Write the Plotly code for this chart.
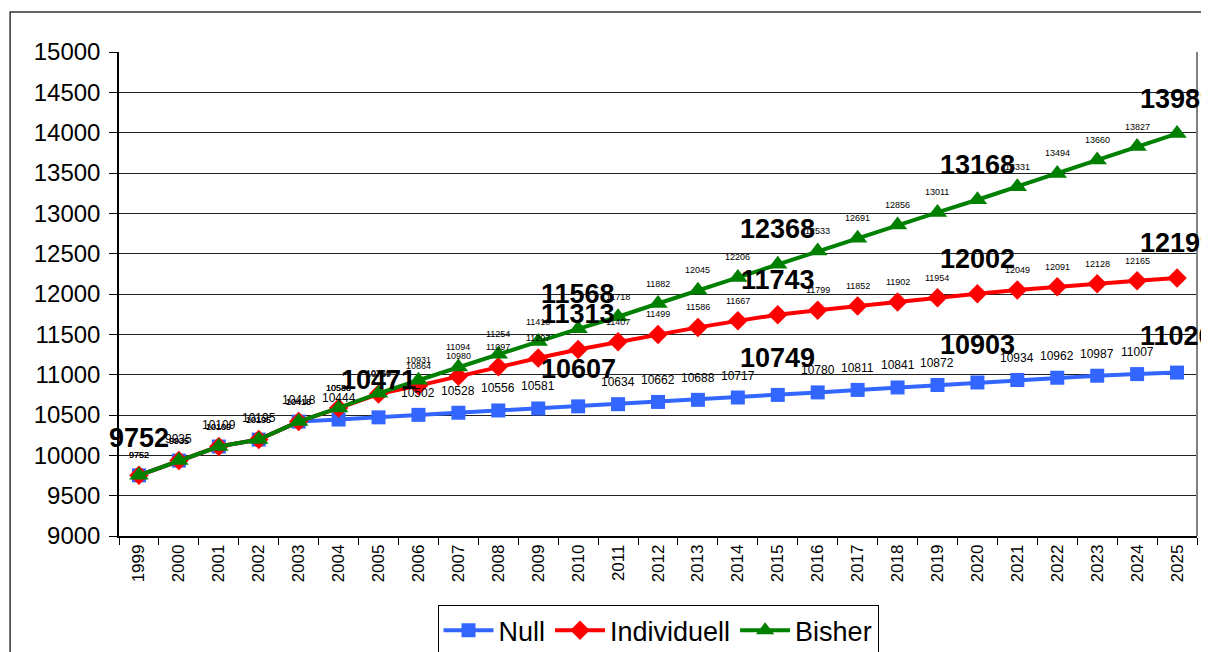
import plotly.graph_objects as go

years = ["1999", "2000", "2001", "2002", "2003", "2004", "2005", "2006", "2007",
         "2008", "2009", "2010", "2011", "2012", "2013", "2014", "2015", "2016",
         "2017", "2018", "2019", "2020", "2021", "2022", "2023", "2024", "2025"]

null_vals = [9752, 9935, 10109, 10195, 10418, 10444, 10471, 10502, 10528,
             10556, 10581, 10607, 10634, 10662, 10688, 10717, 10749, 10780,
             10811, 10841, 10872, 10903, 10934, 10962, 10987, 11007, 11026]

indiv_vals = [9752, 9935, 10109, 10195, 10418, 10586, 10759, 10864, 10980,
              11097, 11207, 11313, 11407, 11499, 11586, 11667, 11743, 11799,
              11852, 11902, 11954, 12002, 12049, 12091, 12128, 12165, 12199]

bisher_vals = [9752, 9935, 10109, 10195, 10418, 10588, 10769, 10931, 11094,
               11254, 11410, 11568, 11718, 11882, 12045, 12206, 12368, 12533,
               12691, 12856, 13011, 13168, 13331, 13494, 13660, 13827, 13989]

big_null_years = ["1999", "2005", "2010", "2015", "2020", "2025"]
big_other_years = ["2010", "2015", "2020", "2025"]

FONT = "Arial, Liberation Sans, sans-serif"
BLUE, RED, GREEN = "#3366FF", "#FF0000", "#008000"

fig = go.Figure()
fig.add_trace(go.Scatter(x=years, y=null_vals, name="Null", mode="lines+markers",
                         line=dict(color=BLUE, width=4),
                         marker=dict(symbol="square", size=14, color=BLUE)))
fig.add_trace(go.Scatter(x=years, y=indiv_vals, name="Individuell", mode="lines+markers",
                         line=dict(color=RED, width=4),
                         marker=dict(symbol="diamond", size=15, color=RED)))
fig.add_trace(go.Scatter(x=years, y=bisher_vals, name="Bisher", mode="lines+markers",
                         line=dict(color=GREEN, width=4),
                         marker=dict(symbol="triangle-up", size=17, color=GREEN)))

# Null labels (x given as category serial number)
for i, (yr, v) in enumerate(zip(years, null_vals)):
    if yr in big_null_years:
        fig.add_annotation(x=i, y=v, xref="x", yref="y", text="<b>%d</b>" % v,
                           showarrow=False, yshift=37,
                           font=dict(size=27, color="black", family=FONT))
    else:
        fig.add_annotation(x=i, y=v, xref="x", yref="y", text="%d" % v,
                           showarrow=False, yshift=22,
                           font=dict(size=12, color="black", family=FONT))
# Individuell & Bisher labels
for vals in (indiv_vals, bisher_vals):
    for i, (yr, v) in enumerate(zip(years, vals)):
        if yr in big_other_years:
            fig.add_annotation(x=i, y=v, xref="x", yref="y", text="<b>%d</b>" % v,
                               showarrow=False, yshift=35,
                               font=dict(size=27, color="black", family=FONT))
        else:
            fig.add_annotation(x=i, y=v, xref="x", yref="y", text="%d" % v,
                               showarrow=False, yshift=20,
                               font=dict(size=9, color="black", family=FONT))

# outer chart border
fig.add_shape(type="rect", xref="paper", yref="paper", x0=-0.101, x1=1.03, y0=-0.3, y1=1.0826,
              line=dict(color="#333333", width=1.5), fillcolor="rgba(0,0,0,0)", layer="below")
# right plot-area border
fig.add_shape(type="line", xref="paper", yref="paper", x0=1, x1=1, y0=0, y1=1,
              line=dict(color="#808080", width=2))

fig.update_layout(
    width=1201, height=644,
    margin=dict(l=111, r=12, t=44, b=116, autoexpand=False),
    paper_bgcolor="white", plot_bgcolor="white",
    font=dict(family=FONT, color="black"),
    showlegend=True,
    legend=dict(orientation="h", x=0.5, xanchor="center", y=-0.143, yanchor="top",
                bordercolor="black", borderwidth=1, font=dict(size=27, family=FONT),
                itemwidth=50, tracegroupgap=0),
)
fig.update_xaxes(type="category", range=[-0.5, 26.5], tickangle=-90,
                 tickson="boundaries", ticks="outside", ticklen=7, tickcolor="black",
                 showline=True, linecolor="black", linewidth=1.5, automargin=False,
                 showgrid=False, tickfont=dict(size=17, family=FONT))
fig.update_yaxes(range=[9000, 15000], dtick=500, tickformat="d", ticks="outside", ticklen=8,
                 tickcolor="black", showline=True, linecolor="black", linewidth=1.5,
                 showgrid=True, gridcolor="#202020", gridwidth=1, zeroline=False,
                 automargin=False, ticklabelstandoff=4, tickfont=dict(size=24, family=FONT))

fig.write_html("out.html")
